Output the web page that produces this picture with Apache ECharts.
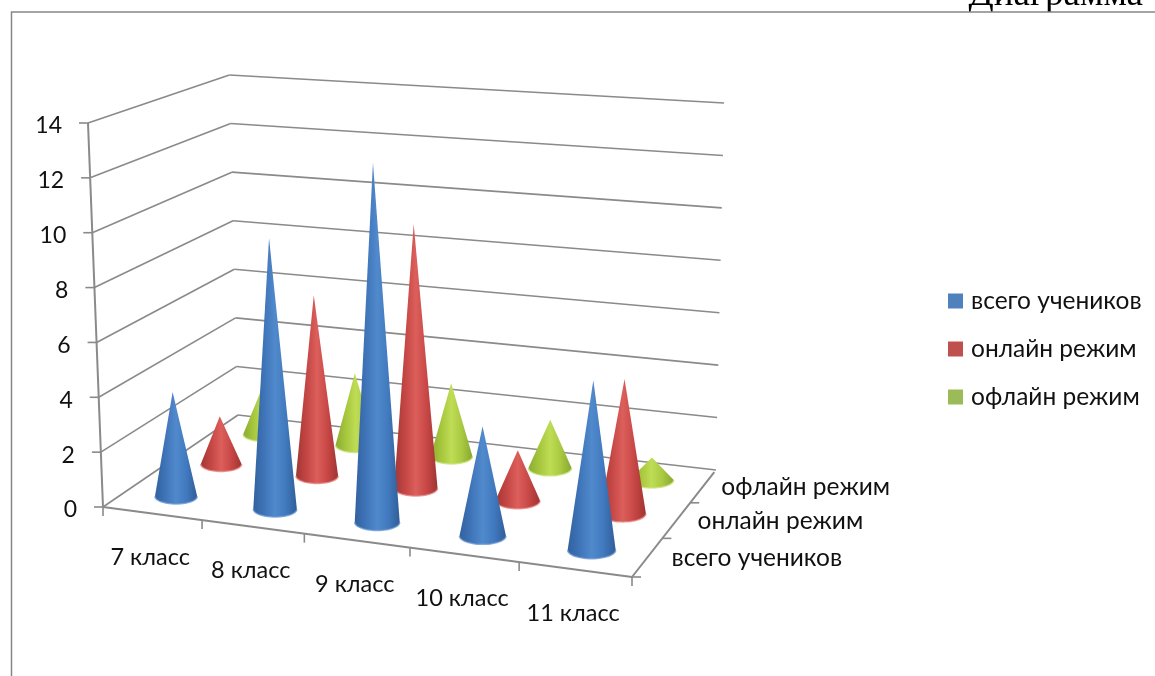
<!DOCTYPE html>
<html><head><meta charset="utf-8">
<style>html,body{margin:0;padding:0;background:#fff}#c{width:1155px;height:676px}</style>
<script src="https://cdn.jsdelivr.net/npm/echarts@6/dist/echarts.min.js"></script>
</head><body><div id="c"></div>
<script>
const categories = ['7 класс','8 класс','9 класс','10 класс','11 класс'];
const seriesNames = ['всего учеников','онлайн режим','офлайн режим'];
const totalStudents = [4,10,13,4,6];
const onlineMode = [2,7,10,2,5];
const offlineMode = [2,3,3,2,1];
const valueTicks = [0,2,4,6,8,10,12,14];
const valueMax = 14;

// Perspective of the 3D box: the floor corners, the height of the value axis
// at three of them, and the far point where vertical edges meet
const floorCorners = {fl:[103,507], fr:[632,577], br:[716,470], bl:[238,415]};
const heightAt = {fl:384, bl:340, br:367};
const verticalVanish = [495,10545];

function homography(q){
  const [x0,y0]=q.fl,[x1,y1]=q.fr,[x2,y2]=q.br,[x3,y3]=q.bl;
  const dx1=x1-x2,dx2=x3-x2,sx=x0-x1+x2-x3,dy1=y1-y2,dy2=y3-y2,sy=y0-y1+y2-y3;
  const d=dx1*dy2-dx2*dy1;
  const g=(sx*dy2-dx2*sy)/d,h=(dx1*sy-sx*dy1)/d;
  const a=x1-x0+g*x1,b=x3-x0+h*x3,e=y1-y0+g*y1,f=y3-y0+h*y3;
  return (s,t)=>{const w=g*s+h*t+1;return [(a*s+b*t+x0)/w,(e*s+f*t+y0)/w];};
}
const hFloor=homography(floorCorners);
// plane through the three known heights, as a function of floor pixel position
const hPlane=(()=>{
  const A=floorCorners.fl,B=floorCorners.bl,C=floorCorners.br;
  const p1=A[0]-B[0],q1=A[1]-B[1],r1=heightAt.fl-heightAt.bl;
  const p2=C[0]-B[0],q2=C[1]-B[1],r2=heightAt.br-heightAt.bl;
  const D=p1*q2-p2*q1,a=(r1*q2-r2*q1)/D,b=(p1*r2-p2*r1)/D;
  return (x,y)=>heightAt.bl+a*(x-B[0])+b*(y-B[1]);
})();
const nCat=categories.length, nSer=seriesNames.length;
function project(u,v,val){
  const f=hFloor(u/nCat,v/nSer), h=hPlane(f[0],f[1])*val/valueMax;
  return [f[0]+(f[0]-verticalVanish[0])*h/(verticalVanish[1]-f[1]), f[1]-h];
}

const GRID='#8a8a8a', TEXT='#111', FONT="Lato,'Open Sans','Noto Sans',sans-serif";
const FS_VALUE=23, FS_CAT=23.5, FS_SER=24.5;
const TIP_FADE=4;
const shades=[
 {base:'#4f81bd',stops:['#32619f','#3f74b8','#5189cd','#4079bd','#315d98'],rim:'#6f9ad2'},
 {base:'#c0504d',stops:['#a03634','#c44644','#dc5f5c','#c74745','#9e3432'],rim:'#e58582'},
 {base:'#9bbb59',stops:['#8cab33','#a5c63c','#bfdc55','#a8c940','#88a633'],rim:'#cbe27f'}
];

function line(a,b,w){return {type:'line',silent:true,shape:{x1:a[0],y1:a[1],x2:b[0],y2:b[1]},style:{stroke:GRID,lineWidth:w||1.6}};}
function label(t,x,y,align,fs){return {type:'text',silent:true,style:{text:t,x:x,y:y,fill:TEXT,font:fs+'px '+FONT,align:align,verticalAlign:'middle'}};}

function renderFrame(){
  const c=[];
  valueTicks.forEach(t=>{
    const a=project(0,0,t),b=project(0,nSer,t),d=project(nCat,nSer,t);
    c.push(line(a,b),line(b,d));
    c.push(line([a[0]-9,a[1]],a));
    c.push(label(String(t),a[0]-26,a[1]+3,'right',FS_VALUE));
  });
  c.push(line(project(0,0,0),project(0,0,valueMax),2));
  c.push(line(project(0,0,0),project(nCat,0,0),2));
  c.push(line(project(nCat,0,0),project(nCat,nSer-.07,0),2));
  for(let i=0;i<=nCat;i++){const p=project(i,0,0);c.push(line(p,[p[0],p[1]+9]));}
  for(let j=0;j<nSer;j++){const p=project(nCat,j,0);c.push(line(p,[p[0]+9,p[1]]));}
  categories.forEach((n,i)=>{const p=project(i+.5,0,0);c.push(label(n,p[0]-2,p[1]+44,'center',FS_CAT));});
  seriesNames.forEach((n,j)=>{const p=project(nCat,j+.5,0);c.push(label(n,p[0]+24-3*j,p[1]+1,'left',FS_SER));});
  return {type:'group',children:c};
}

function coneItem(params,api){
  const u=api.value(0)+.5, v=api.value(1)+.5, val=api.value(2), sh=shades[api.value(1)];
  const base=project(u,v,0), top=project(u,v,val);
  const apex=[top[0],top[1]+TIP_FADE];
  const l=project(u-.5,v,0), r=project(u+.5,v,0);
  const rx=.215*Math.hypot(r[0]-l[0],r[1]-l[1]), ry=rx*.36;
  const pts=[apex], rim=[];
  for(let i=0;i<=28;i++){const th=Math.PI*i/28;
    const p=[base[0]+rx*Math.cos(th),base[1]+ry*Math.sin(th)];pts.push(p);rim.push(p);}
  return {type:'group',silent:true,children:[
    {type:'polygon',shape:{points:pts},style:{fill:{type:'linear',x:0,y:0,x2:1,y2:0,
      colorStops:sh.stops.map((s,k)=>({offset:k/4,color:s}))}}},
    {type:'polyline',shape:{points:rim},style:{stroke:sh.rim,lineWidth:1.5,fill:null,opacity:.8}}
  ]};
}
function rows(j,arr){return arr.map((v,i)=>[i,j,v]);}
const coneSeries=[totalStudents,onlineMode,offlineMode].map((arr,j)=>({
  type:'custom',name:seriesNames[j],coordinateSystem:'none',z:5-j,silent:true,
  itemStyle:{color:shades[j].base},data:rows(j,arr),renderItem:coneItem
}));

const chart=echarts.init(document.getElementById('c'),null,{renderer:'canvas'});
chart.setOption({
  animation:false,backgroundColor:'#fff',
  legend:{data:seriesNames.map(n=>({name:n,icon:'rect'})),orient:'vertical',left:948,top:287,padding:0,itemWidth:15,itemHeight:15,itemGap:20,
    selectedMode:false,textStyle:{color:TEXT,fontFamily:FONT,fontSize:FS_SER,padding:[0,0,0,3],lineHeight:28}},
  graphic:[
    {type:'text',z:0,silent:true,style:{text:'Диаграмма',x:1143,y:-5,align:'right',verticalAlign:'middle',fill:'#000',font:"37px 'Liberation Serif',serif"}},
    {type:'rect',z:1,silent:true,shape:{x:11,y:12,width:1150,height:670},style:{fill:'#fff'}},
    {type:'polyline',z:1,silent:true,shape:{points:[[11.5,677],[11.5,12],[1156,12]]},style:{stroke:'#868686',lineWidth:1.5,fill:null}}
  ],
  series:[{type:'custom',name:'frame',coordinateSystem:'none',z:2,silent:true,data:[[0]],renderItem:renderFrame}].concat(coneSeries)
});
</script></body></html>
